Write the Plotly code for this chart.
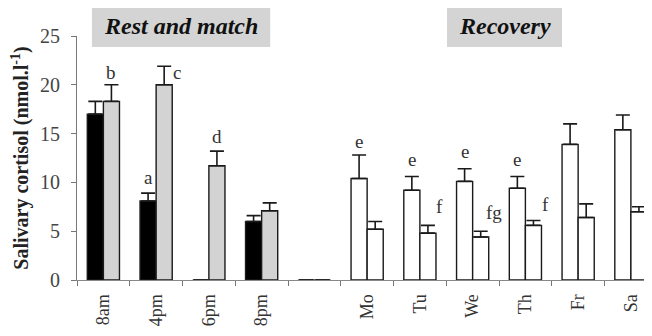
import plotly.graph_objects as go

categories = ["8am", "4pm", "6pm", "8pm", " ", "Mo", "Tu", "We", "Th", "Fr", "Sa"]
series1_mean = [17.0, 8.1, 0, 6.0, 0, 10.4, 9.2, 10.1, 9.4, 13.9, 15.4]
series1_err = [1.3, 0.8, None, 0.6, None, 2.4, 1.4, 1.3, 1.2, 2.1, 1.5]
series2_mean = [18.3, 20.0, 11.7, 7.1, 0, 5.2, 4.8, 4.4, 5.6, 6.4, 7.0]
series2_err = [1.7, 1.9, 1.5, 0.8, None, 0.8, 0.8, 0.6, 0.5, 1.4, 0.5]
series1_colors = ["#000000"] * 4 + ["#ffffff"] * 7
series2_colors = ["#d3d3d3"] * 4 + ["#ffffff"] * 7

# significance letters: (category, offset in category units, y value, text)
letters = [
    ("4pm", -0.15, 10.5, "a"),
    ("8am", 0.15, 21.3, "b"),
    ("4pm", 0.40, 21.3, "c"),
    ("6pm", 0.15, 14.7, "d"),
    ("Mo", -0.15, 14.2, "e"),
    ("Tu", -0.15, 12.3, "e"),
    ("We", -0.15, 13.2, "e"),
    ("Th", -0.15, 12.3, "e"),
    ("Tu", 0.38, 7.5, "f"),
    ("We", 0.40, 6.9, "fg"),
    ("Th", 0.38, 7.7, "f"),
]

serif = "Liberation Serif, Times New Roman, serif"

fig = go.Figure()
fig.add_trace(go.Bar(
    x=categories, y=series1_mean,
    marker=dict(color=series1_colors, line=dict(color="#1a1a1a", width=1.4)),
    error_y=dict(type="data", symmetric=False, array=series1_err,
                 arrayminus=[0] * len(series1_err), color="#1a1a1a",
                 thickness=1.6, width=7),
))
fig.add_trace(go.Bar(
    x=categories, y=series2_mean,
    marker=dict(color=series2_colors, line=dict(color="#1a1a1a", width=1.4)),
    error_y=dict(type="data", symmetric=False, array=series2_err,
                 arrayminus=[0] * len(series2_err), color="#1a1a1a",
                 thickness=1.6, width=7),
))

for cat, off, yv, txt in letters:
    fig.add_annotation(x=categories.index(cat) + off, y=yv, text=txt,
                       showarrow=False, xanchor="center", yanchor="middle",
                       font=dict(family=serif, size=19, color="#333333"))

# header boxes
fig.add_shape(type="rect", xref="paper", yref="paper",
              x0=0.026, x1=0.336, y0=0.955, y1=1.123,
              fillcolor="#d4d4d4", line=dict(width=0), layer="below")
fig.add_shape(type="rect", xref="paper", yref="paper",
              x0=0.6435, x1=0.8435, y0=0.955, y1=1.123,
              fillcolor="#d4d4d4", line=dict(width=0), layer="below")
fig.add_annotation(xref="paper", yref="paper", x=0.181, y=1.039,
                   text="<b><i>Rest and match</i></b>", showarrow=False,
                   xanchor="center", yanchor="middle",
                   font=dict(family=serif, size=24, color="#111111"))
fig.add_annotation(xref="paper", yref="paper", x=0.7435, y=1.039,
                   text="<b><i>Recovery</i></b>", showarrow=False,
                   xanchor="center", yanchor="middle",
                   font=dict(family=serif, size=24, color="#111111"))

# page body has an 8px margin, so the figure is 8px smaller to fit the window
fig.update_layout(
    width=644, height=328,
    margin=dict(l=69, r=0, t=28, b=56, autoexpand=False),
    paper_bgcolor="white", plot_bgcolor="white",
    barmode="group", bargap=0.39, bargroupgap=0,
    showlegend=False,
    xaxis=dict(type="category", range=[-0.5, 10.4], tickangle=-90,
               tickson="boundaries", ticks="outside", ticklen=5,
               tickcolor="#777777", showline=True, linecolor="#888888",
               linewidth=1, showgrid=False, zeroline=False, automargin=False,
               ticklabelstandoff=6,
               tickfont=dict(family=serif, size=18, color="#333333")),
    yaxis=dict(range=[0, 25], tickvals=[0, 5, 10, 15, 20, 25],
               ticks="outside", ticklen=5, tickcolor="#777777",
               showline=True, linecolor="#777777", linewidth=1,
               showgrid=False, zeroline=False, automargin=False,
               ticklabelstandoff=7,
               tickfont=dict(family=serif, size=20, color="#444444"),
               title=dict(text="<b>Salivary cortisol (nmol.l<sup>-1</sup>)</b>",
                          font=dict(family=serif, size=20, color="#222222"),
                          standoff=8)),
)

fig.write_html("out.html")
